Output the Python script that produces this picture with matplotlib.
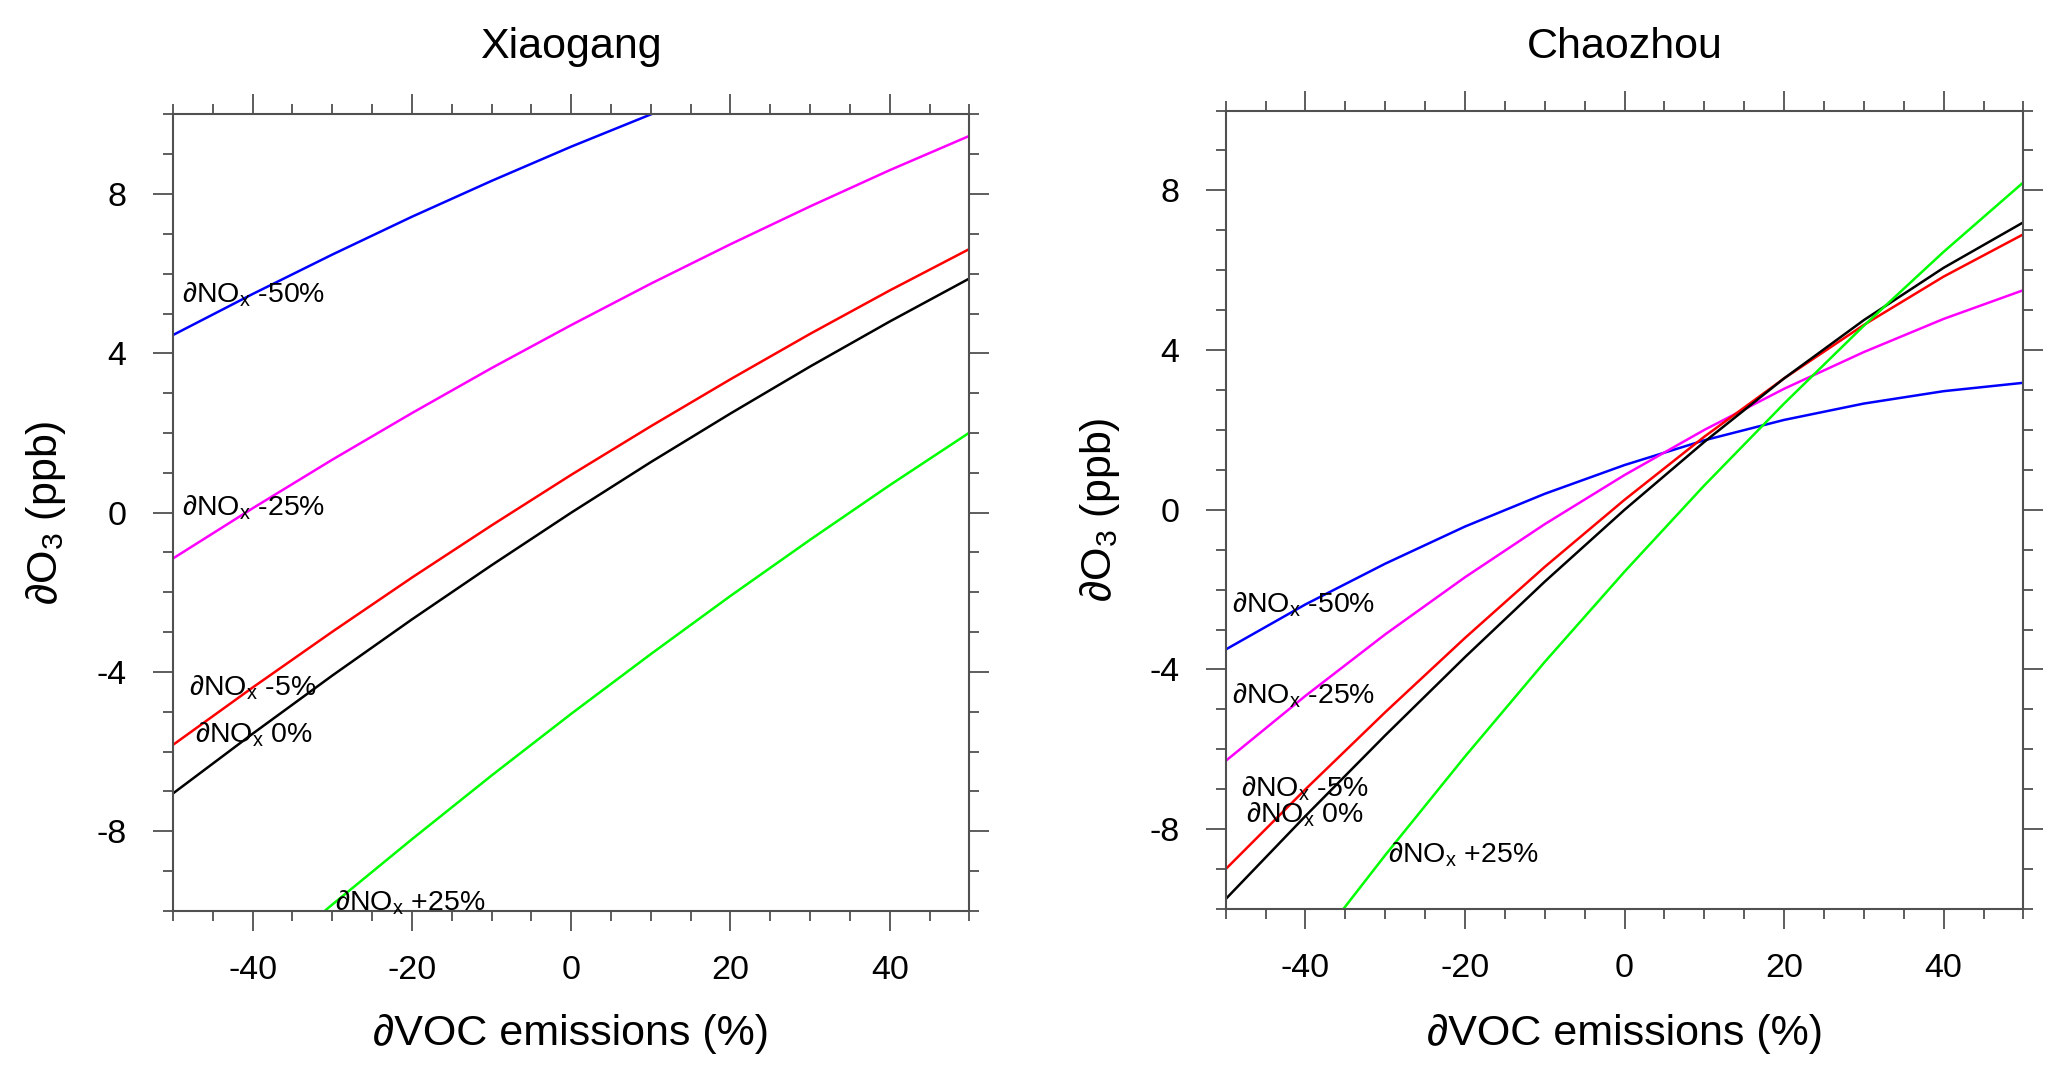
#importing modules
import numpy as np
import matplotlib
matplotlib.use('Agg')
import matplotlib.pyplot as plt
from matplotlib.ticker import MultipleLocator

plt.rcParams['font.family'] = ['Liberation Sans', 'DejaVu Sans']
plt.rcParams['mathtext.fontset'] = 'custom'
plt.rcParams['mathtext.rm'] = 'Liberation Sans'
plt.rcParams['mathtext.default'] = 'regular'
plt.rcParams['axes.unicode_minus'] = False  #plain hyphen like the original

nan = np.nan

#------------------------------------DATA----------------------------------------#

#VOC emission change (%) on the x axis
voc_change = [-50, -40, -30, -20, -10, 0, 10, 20, 30, 40, 50]

#NOx scenarios (label text and line colour)
nox_labels = ['-50%', '-25%', '-5%', '0%', '+25%']
nox_colors = ['#0000ff', '#ff00ff', '#ff0000', '#000000', '#00ff00']

#Xiaogang: ozone change (ppb), nan = off the chart
xg_nox_m50 = [4.46, 5.49, 6.48, 7.43, 8.33, 9.19, 10.0, nan, nan, nan, nan]
xg_nox_m25 = [-1.15, 0.11, 1.33, 2.50, 3.63, 4.71, 5.75, 6.74, 7.69, 8.60, 9.46]
xg_nox_m5 = [-5.83, -4.39, -2.99, -1.63, -0.32, 0.95, 2.17, 3.35, 4.49, 5.58, 6.62]
xg_nox_0 = [-7.05, -5.55, -4.09, -2.68, -1.32, 0.00, 1.27, 2.49, 3.67, 4.80, 5.88]
xg_nox_p25 = [nan, -11.52, -9.84, -8.20, -6.60, -5.05, -3.55, -2.09, -0.68, 0.69, 2.01]

#Chaozhou: ozone change (ppb)
cz_nox_m50 = [-3.50, -2.37, -1.35, -0.42, 0.40, 1.12, 1.74, 2.25, 2.66, 2.97, 3.18]
cz_nox_m25 = [-6.29, -4.66, -3.12, -1.69, -0.36, 0.87, 2.00, 3.03, 3.95, 4.78, 5.50]
cz_nox_m5 = [-9.00, -7.00, -5.07, -3.21, -1.43, 0.25, 1.83, 3.29, 4.63, 5.84, 6.90]
cz_nox_0 = [-9.75, -7.67, -5.65, -3.69, -1.80, 0.00, 1.70, 3.29, 4.75, 6.06, 7.20]
cz_nox_p25 = [nan, -11.22, -8.65, -6.18, -3.81, -1.55, 0.61, 2.66, 4.61, 6.46, 8.20]

#------------------------------------DATA END-------------------------------------#


#------------------------------------PLOTTING----------------------------------------#

fig = plt.figure(figsize=(20.67, 10.76), dpi=100)

panels = [
    ('Xiaogang', [0.0837, 0.1534, 0.3853, 0.7403],
     [xg_nox_m50, xg_nox_m25, xg_nox_m5, xg_nox_0, xg_nox_p25],
     [(-48.9, 5.28), (-48.9, -0.08), (-48.0, -4.60), (-47.3, -5.77), (-29.65, -10.0)],
     0.0223),
    ('Chaozhou', [0.5930, 0.1552, 0.3859, 0.7421],
     [cz_nox_m50, cz_nox_m25, cz_nox_m5, cz_nox_0, cz_nox_p25],
     [(-49.2, -2.58), (-49.2, -4.85), (-48.1, -7.17), (-47.5, -7.83), (-29.6, -8.83)],
     0.532),
]

axis_grey = '#505050'

for title, rect, series, label_pos, ylab_x in panels:
    ax = fig.add_axes(rect)

    #one line per NOx scenario
    for vals, col, lab, pos in zip(series, nox_colors, nox_labels, label_pos):
        ax.plot(voc_change, vals, color=col, lw=1.8)
        ax.text(pos[0], pos[1], '\u2202NO$_{x}$ ' + lab, fontsize=20.5,
                ha='left', va='baseline')

    ax.set_xlim(-50, 50)
    ax.set_ylim(-10, 10)
    ax.xaxis.set_major_locator(MultipleLocator(20))
    ax.xaxis.set_minor_locator(MultipleLocator(5))
    ax.yaxis.set_major_locator(MultipleLocator(4))
    ax.yaxis.set_minor_locator(MultipleLocator(1))
    ax.tick_params(which='both', direction='out', top=True, right=True,
                   color=axis_grey, width=1.3)
    ax.tick_params(which='major', length=14.4, labelsize=24.5)
    ax.tick_params(which='minor', length=7.2)
    ax.tick_params(axis='x', pad=17)
    ax.tick_params(axis='y', pad=19)
    for sp in ax.spines.values():
        sp.set_color(axis_grey)
        sp.set_linewidth(1.5)

    #titles and axis labels
    cx = rect[0] + rect[2] / 2
    fig.text(cx, 0.946, title, fontsize=31, ha='center', va='baseline')
    fig.text(cx, 0.0288, '\u2202VOC emissions (%)', fontsize=31,
             ha='center', va='baseline')
    fig.text(ylab_x, rect[1] + rect[3] / 2, '\u2202O$_{3}$ (ppb)', fontsize=31,
             rotation=90, ha='center', va='center')

plt.savefig('out.png', dpi=100)

#------------------------------------PLOTTING END------------------------------------#
